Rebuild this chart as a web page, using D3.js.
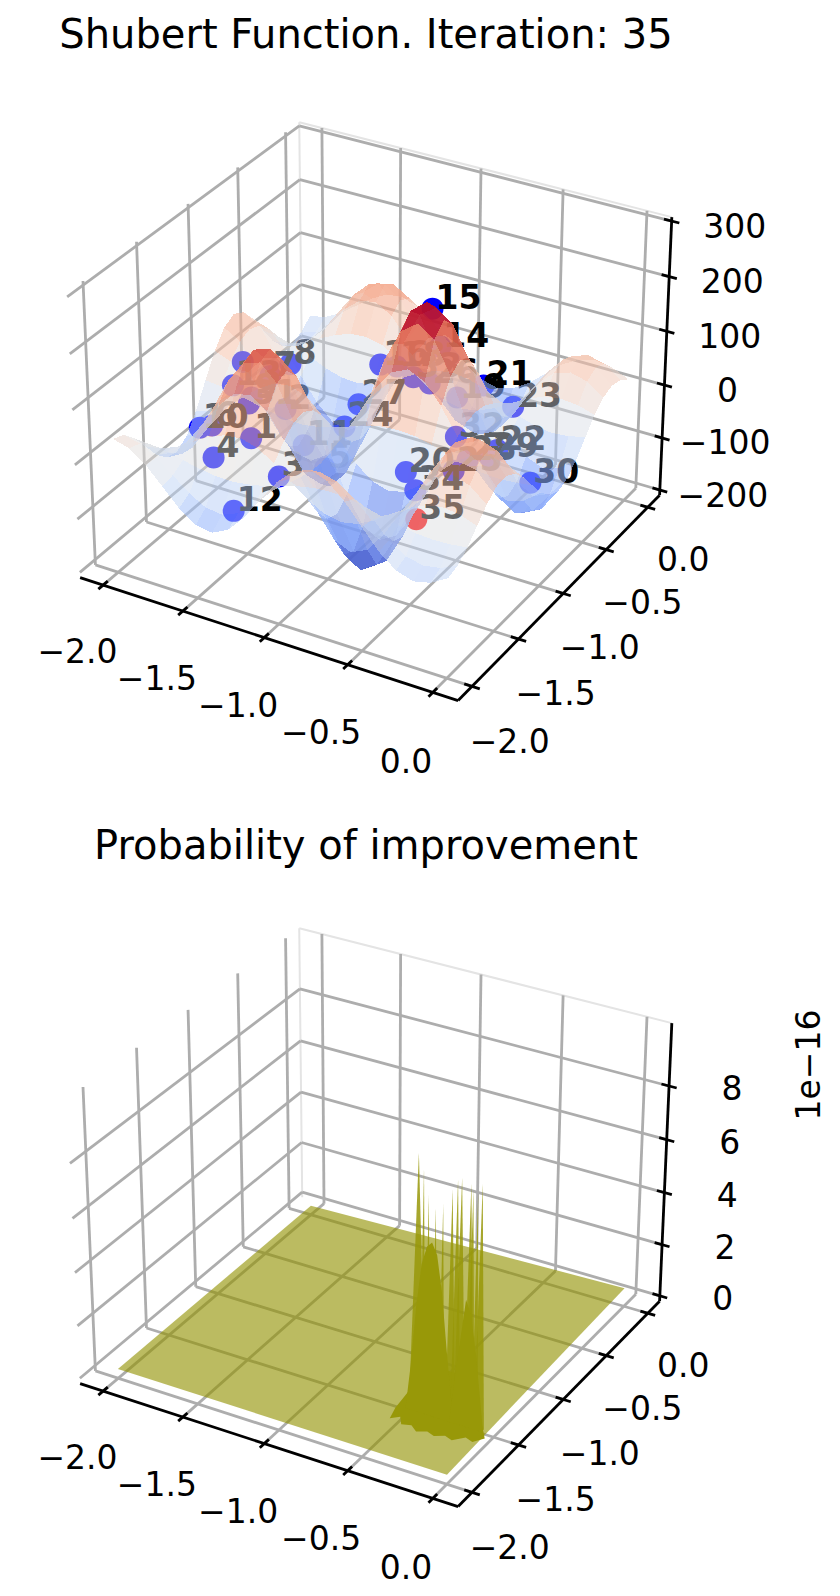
<!DOCTYPE html>
<html lang="en">
<head>
<meta charset="UTF-8">
<title>Shubert Function</title>
<script src="https://d3js.org/d3.v7.min.js"></script>
<style>
    body { margin: 0; background: #fff; }
    text { font-family: "DejaVu Sans", sans-serif; fill: #000; }
    .tick-label { font-size: 33px; text-anchor: middle; dominant-baseline: central; }
    .title { font-size: 40px; text-anchor: middle; }
    .point-label { font-size: 33px; font-weight: bold; }
    .grid { stroke: #adadad; stroke-width: 2.8px; fill: none; }
    .pane-edge { stroke: #e4e4e4; stroke-width: 2px; fill: none; }
    .axis { stroke: #000; stroke-width: 2.8px; fill: none; }
</style>
</head>
<body>
<svg id="chart" width="840" height="1596"></svg>
<script>
// Surface values, rows x = -2..0, columns y = -2..0, step 0.1
const gridAxis = [-2,-1.9,-1.8,-1.7,-1.6,-1.5,-1.4,-1.3,-1.2,-1.1,-1,-0.9,-0.8,-0.7,-0.6,-0.5,-0.4,-0.3,-0.2,-0.1,0];
const surfaceZ = [
[38,30,8,-22,-53,-74,-79,-64,-32,10,50,79,90,79,52,16,-19,-43,-53,-46,-28],
[30,23,6,-17,-41,-58,-62,-50,-25,7,39,62,70,62,41,12,-15,-34,-41,-36,-22],
[8,6,2,-5,-11,-16,-17,-13,-7,2,11,17,19,17,11,3,-4,-9,-11,-10,-6],
[-22,-17,-5,13,31,43,46,37,19,-6,-29,-46,-52,-46,-30,-9,11,25,31,27,16],
[-53,-41,-11,31,73,103,109,89,44,-13,-69,-110,-124,-110,-72,-22,26,60,73,63,38],
[-74,-58,-16,43,103,144,153,124,62,-18,-97,-154,-174,-154,-101,-31,37,85,102,89,54],
[-79,-62,-17,46,109,153,163,132,66,-20,-104,-164,-185,-164,-108,-33,39,90,109,95,57],
[-64,-50,-13,37,89,124,132,107,54,-16,-84,-133,-150,-133,-87,-27,32,73,88,77,46],
[-32,-25,-7,19,44,62,66,54,27,-8,-42,-66,-75,-67,-44,-13,16,37,44,38,23],
[10,7,2,-6,-13,-18,-20,-16,-8,2,12,20,22,20,13,4,-5,-11,-13,-11,-7],
[50,39,11,-29,-69,-97,-104,-84,-42,12,66,104,118,104,68,21,-25,-57,-69,-60,-36],
[79,62,17,-46,-110,-154,-164,-133,-66,20,104,164,186,165,108,33,-39,-90,-109,-95,-57],
[90,70,19,-52,-124,-174,-185,-150,-75,22,118,186,211,186,122,37,-45,-102,-124,-108,-65],
[79,62,17,-46,-110,-154,-164,-133,-67,20,104,165,186,165,108,33,-39,-91,-109,-95,-57],
[52,41,11,-30,-72,-101,-108,-87,-44,13,68,108,122,108,71,22,-26,-59,-72,-63,-38],
[16,12,3,-9,-22,-31,-33,-27,-13,4,21,33,37,33,22,7,-8,-18,-22,-19,-12],
[-19,-15,-4,11,26,37,39,32,16,-5,-25,-39,-45,-39,-26,-8,9,22,26,23,14],
[-43,-34,-9,25,60,85,90,73,37,-11,-57,-90,-102,-91,-59,-18,22,50,60,52,31],
[-53,-41,-11,31,73,102,109,88,44,-13,-69,-109,-124,-109,-72,-22,26,60,73,63,38],
[-46,-36,-10,27,63,89,95,77,38,-11,-60,-95,-108,-95,-63,-19,23,52,63,55,33],
[-28,-22,-6,16,38,54,57,46,23,-7,-36,-57,-65,-57,-38,-12,14,31,38,33,20]];

// Sampled points, last one is the newest. One point has no label visible in the picture.
const pointLabels = ["12","4","3","5","11","1","10","6","31","9","13","7","","8","2","27","24","15","14","16","18","33","26","19","21","23","32","28","29","22","25","20","34","30","35"];
const pointX = [-1.34,-1.54,-1.16,-1.09,-1.59,-1.35,-1.94,-1.79,-1.70,-1.65,-1.85,-1.50,-1.86,-1.76,-1.47,-1.37,-1.43,-0.79,-0.84,-1.29,-0.88,-1.10,-0.97,-0.56,-0.58,-0.52,-0.51,-0.33,-0.19,-0.41,-0.21,-0.72,-0.64,-0.24,-0.33];
const pointY = [-1.88,-1.75,-1.72,-1.37,-0.76,-1.68,-1.26,-1.37,-1.14,-1.19,-1.06,-1.24,-0.94,-0.61,-1.14,-0.54,-0.59,-0.76,-0.58,-0.44,-0.98,-0.41,-0.46,-0.90,-0.57,-0.34,-1.00,-1.20,-1.22,-0.72,-1.57,-1.16,-1.20,-0.66,-1.74];
const pointZ = [-47,12,7,-27,-123,53,-44,-10,4,27,13,87,38,-6,14,-59,-99,199,100,8,119,-4,3,78,49,-20,26,31,52,-33,80,-33,-53,-88,9];

const xTicks = [-2,-1.5,-1,-0.5,0];
const zTicksTop = [-200,-100,0,100,200,300];
const zTicksBottom = [0,2,4,6,8];

// Probability surface, z in units of 1e-16
const sheetX = [-2,0];
const sheetY = [-2,0];
const sheetZ = [[0.15,0.15],[0.15,0.5]];
const spikeX = [-0.40,-0.37,-0.341,-0.30,-0.258,-0.205,-0.175,-0.152,-0.099,-0.087,-0.06,-0.035];
const spikeZ = [9.75,9.25,8.36,8.0,8.2,8.8,9.2,9.3,9.2,9.0,8.9,9.3];
const spikeWidth = [0.05,0.018,0.018,0.018,0.018,0.03,0.03,0.035,0.03,0.025,0.018,0.03];
const spikeRowY = -1.6;
const bumpX = [-0.47,-0.44,-0.41,-0.38,-0.35,-0.32,-0.29,-0.26,-0.23,-0.20,-0.18];
const bumpZ = [0.3,2.0,4.2,5.8,6.5,6.7,6.3,5.0,3.0,1.2,0.3];
const bump2X = [-0.21,-0.18,-0.15,-0.12,-0.09,-0.06,-0.03,-0.01];
const bump2Z = [0.3,2.0,3.5,5.0,4.5,3.2,1.5,0.3];
const moundX = [-0.53,-0.49,-0.45,-0.40,-0.35,-0.30,-0.25,-0.20,-0.15,-0.10,-0.05,-0.01];
const moundY = [-1.66,-1.62,-1.68,-1.66,-1.70,-1.67,-1.69,-1.66,-1.68,-1.62,-1.64,-1.58];
const moundZ = [0.2,0.6,1.0,1.6,2.0,2.2,2.2,2.2,2.2,2.0,1.4,0.4];

const coolwarmStops = ["#3b4cc0","#6282ea","#8db0fe","#c0d4f5","#dddddd","#f5c4ad","#f49a7b","#de614d","#b40426"];
const coolwarm = d3.scaleLinear()
    .domain(d3.range(9).map(i => -165 + i * (190 + 165) / 8))
    .range(coolwarmStops)
    .clamp(true);
// steep cells pile up in the original, so they read denser
const cellOpacity = d3.scaleLinear().domain([0, 190]).range([0.44, 0.8]).clamp(true);

const svg = d3.select("#chart");
const defs = svg.append("defs");
defs.append("filter").attr("id", "soft")
    .attr("filterUnits", "userSpaceOnUse")
    .attr("x", 0).attr("y", 0).attr("width", 840).attr("height", 1596)
    .append("feGaussianBlur").attr("stdDeviation", 0.7);

const xLim = [-2.146, 0.146];
const boxXY = 1.1429, boxZ = 0.8571, dist = 10, cx = 375, k = 3790;
const xScale = d3.scaleLinear().domain(xLim).range([0, boxXY]);

// Matplotlib style view, elev 30 azim -60
function makeProjection(zScale, cy) {
    const view = (x, y, z) => {
        const dx = xScale(x) - boxXY / 2, dy = xScale(y) - boxXY / 2, dz = zScale(z) - boxZ / 2;
        return {
            xv: 0.866 * dx + 0.5 * dy,
            yv: -0.25 * dx + 0.433 * dy + 0.866 * dz,
            depth: 0.433 * dx - 0.75 * dy + 0.5 * dz
        };
    };
    const project = (x, y, z) => {
        const v = view(x, y, z);
        const d = dist - v.depth;
        return [cx + k * v.xv / d, cy - k * v.yv / d];
    };
    project.depth = (x, y, z) => view(x, y, z).depth;
    return project;
}

const lineFn = d3.line();

function drawAxes(g, project, zScale, zTicks, zLabelDy) {
    const zLim = zScale.domain();
    const [x0, x1] = xLim;
    const seg = (cls, a, b) => g.append("path").attr("class", cls)
        .attr("d", lineFn([project(...a), project(...b)]));

    // pane edges
    seg("pane-edge", [x0, x1, zLim[0]], [x0, x1, zLim[1]]);
    seg("pane-edge", [x0, x1, zLim[1]], [x1, x1, zLim[1]]);

    xTicks.forEach(t => {
        seg("grid", [t, x0, zLim[0]], [t, x1, zLim[0]]);
        seg("grid", [t, x1, zLim[0]], [t, x1, zLim[1]]);
        seg("grid", [x0, t, zLim[0]], [x1, t, zLim[0]]);
        seg("grid", [x0, t, zLim[0]], [x0, t, zLim[1]]);
    });
    zTicks.forEach(t => {
        seg("grid", [x0, x0, t], [x0, x1, t]);
        seg("grid", [x0, x1, t], [x1, x1, t]);
    });

    // black axis lines and ticks
    seg("axis", [x0, x0, zLim[0]], [x1, x0, zLim[0]]);
    seg("axis", [x1, x0, zLim[0]], [x1, x1, zLim[0]]);
    seg("axis", [x1, x1, zLim[0]], [x1, x1, zLim[1]]);
    const zUnit = (zLim[1] - zLim[0]) / 515;
    const fmt = d3.format(".1f");
    const label = (p, s, dx, dy) => g.append("text").attr("class", "tick-label")
        .attr("x", p[0] + dx).attr("y", p[1] + dy).text(s.replace("-", "\u2212"));
    xTicks.forEach(t => {
        seg("axis", [t, x0 - 0.045, zLim[0]], [t, x0 + 0.045, zLim[0]]);
        seg("axis", [x1 - 0.045, t, zLim[0]], [x1 + 0.045, t, zLim[0]]);
        label(project(t, x0 - 0.14, zLim[0] - 88 * zUnit), fmt(t), -13, 7.5);
        label(project(x1 + 0.13, t, zLim[0] - 75 * zUnit), fmt(t), 16, 7.5);
    });
    zTicks.forEach(t => {
        seg("axis", [x1 - 0.045, x1, t], [x1 + 0.045, x1, t]);
        const p = project(x1, x1, t);
        label(p, String(t), 63, zLabelDy);
    });
}

// Top panel
const zTop = d3.scaleLinear().domain([-210, 307]).range([0, boxZ]);
const topProj = makeProjection(zTop, 398);
const topPanel = svg.append("g");
topPanel.append("text").attr("class", "title").attr("x", 366).attr("y", 48).text("Shubert Function. Iteration: 35");
drawAxes(topPanel, topProj, zTop, zTicksTop, 5);

const points = pointLabels.map((s, i) => ({ s, x: pointX[i], y: pointY[i], z: pointZ[i] }));
topPanel.append("g").selectAll("circle").data(points).join("circle")
    .attr("cx", d => topProj(d.x, d.y, d.z)[0])
    .attr("cy", d => topProj(d.x, d.y, d.z)[1] + 3)
    .attr("r", 11)
    .attr("fill", d => d.s === "35" ? "#ff0000" : "#0000ff");
topPanel.append("g").selectAll("text").data(points.filter(d => d.s)).join("text")
    .attr("class", "point-label")
    .attr("x", d => topProj(d.x, d.y, d.z)[0] + 3)
    .attr("y", d => topProj(d.x, d.y, d.z)[1] + 3)
    .text(d => d.s);

// Surface cells, far to near, drawn over the points like the original
const cells = [];
for (let i = 0; i < gridAxis.length - 1; i++) {
    for (let j = 0; j < gridAxis.length - 1; j++) {
        const corners = [[i, j], [i + 1, j], [i + 1, j + 1], [i, j + 1]]
            .map(([a, b]) => [gridAxis[a], gridAxis[b], surfaceZ[a][b]]);
        const mean = d3.mean(corners, c => c[2]);
        const depth = d3.mean(corners, c => topProj.depth(...c));
        cells.push({ corners, mean, depth });
    }
}
cells.sort((a, b) => a.depth - b.depth);
topPanel.append("g").attr("filter", "url(#soft)").selectAll("path").data(cells).join("path")
    .attr("d", d => lineFn(d.corners.map(c => topProj(...c))) + "Z")
    .attr("fill", d => coolwarm(d.mean))
    .attr("fill-opacity", d => cellOpacity(Math.abs(d.mean)))
    .attr("shape-rendering", "crispEdges");

// Bottom panel
const zBottom = d3.scaleLinear().domain([-0.21, 10.3]).range([0, boxZ]);
const botProj = makeProjection(zBottom, 1204);
const bottomPanel = svg.append("g");
bottomPanel.append("text").attr("class", "title").attr("x", 366).attr("y", 859).text("Probability of improvement");
drawAxes(bottomPanel, botProj, zBottom, zTicksBottom, 3);
bottomPanel.append("text").attr("class", "tick-label")
    .attr("transform", "translate(808,1065) rotate(-90)")
    .text("1e\u221216");

bottomPanel.append("path")
    .attr("d", lineFn([[0, 0], [1, 0], [1, 1], [0, 1]]
        .map(([a, b]) => botProj(sheetX[a], sheetY[b], sheetZ[a][b]))) + "Z")
    .attr("fill", "#919100")
    .attr("fill-opacity", 0.62);

const olive = "#989808";
// ragged foot of the peak cluster
bottomPanel.append("path")
    .attr("d", lineFn(moundX.map((x, i) => botProj(x, moundY[i], 0))
        .concat(moundX.map((x, i) => botProj(x, spikeRowY, moundZ[i])).reverse())) + "Z")
    .attr("fill", olive);
spikeX.forEach((x, i) => {
    bottomPanel.append("path")
        .attr("d", lineFn([
            botProj(x - spikeWidth[i], spikeRowY, 0.4),
            botProj(x, spikeRowY, spikeZ[i]),
            botProj(x + spikeWidth[i], spikeRowY, 0.4)]) + "Z")
        .attr("fill", olive)
        .attr("fill-opacity", 0.85);
});
bottomPanel.append("path")
    .attr("d", lineFn(bumpX.map((x, i) => botProj(x, spikeRowY, bumpZ[i]))) + "Z")
    .attr("fill", olive);
bottomPanel.append("path")
    .attr("d", lineFn(bump2X.map((x, i) => botProj(x, spikeRowY, bump2Z[i]))) + "Z")
    .attr("fill", olive);
</script>
</body>
</html>
